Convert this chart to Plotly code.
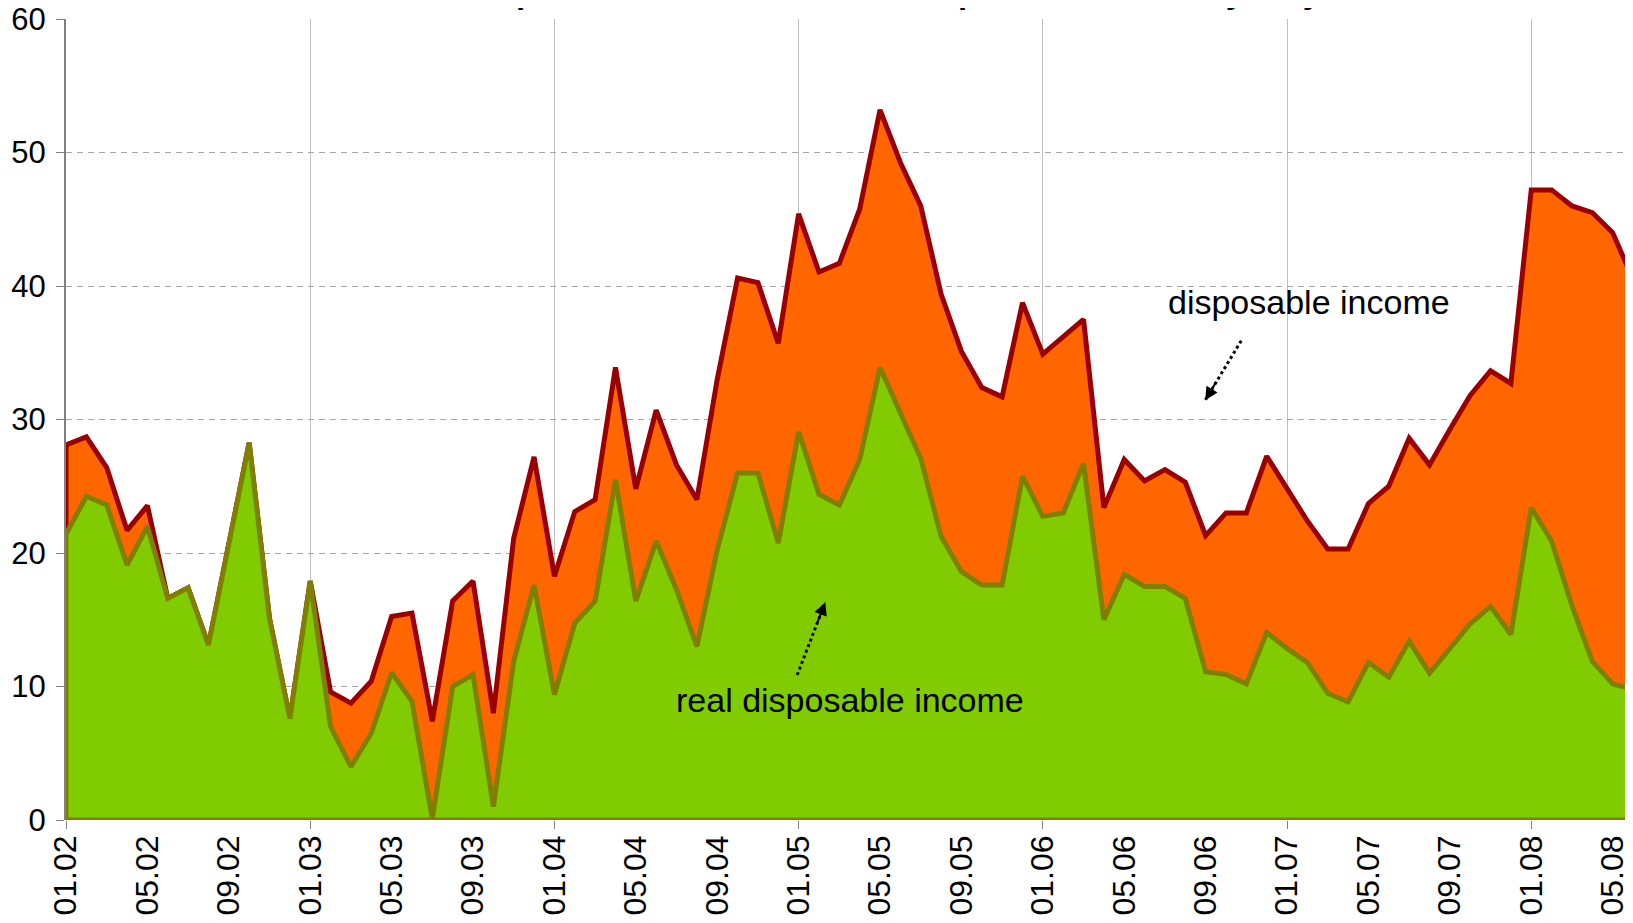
import plotly.graph_objects as go

months = [
    "01.02", "02.02", "03.02", "04.02", "05.02", "06.02", "07.02", "08.02", "09.02", "10.02", "11.02", "12.02",
    "01.03", "02.03", "03.03", "04.03", "05.03", "06.03", "07.03", "08.03", "09.03", "10.03", "11.03", "12.03",
    "01.04", "02.04", "03.04", "04.04", "05.04", "06.04", "07.04", "08.04", "09.04", "10.04", "11.04", "12.04",
    "01.05", "02.05", "03.05", "04.05", "05.05", "06.05", "07.05", "08.05", "09.05", "10.05", "11.05", "12.05",
    "01.06", "02.06", "03.06", "04.06", "05.06", "06.06", "07.06", "08.06", "09.06", "10.06", "11.06", "12.06",
    "01.07", "02.07", "03.07", "04.07", "05.07", "06.07", "07.07", "08.07", "09.07", "10.07", "11.07", "12.07",
    "01.08", "02.08", "03.08", "04.08", "05.08", "06.08",
]

disposable_income = [
    28.1, 28.7, 26.4, 21.7, 23.55, 16.6, 17.4, 13.1, 20.6, 28.25, 15.1, 7.6,
    17.9, 9.6, 8.75, 10.4, 15.25, 15.5, 7.4, 16.4, 17.9, 8.0, 21.1, 27.2,
    18.25, 23.1, 24.0, 33.9, 24.8, 30.7, 26.6, 24.0, 33.0, 40.6, 40.25, 35.7,
    45.4, 41.05, 41.7, 45.75, 53.2, 49.25, 46.0, 39.4, 35.1, 32.4, 31.7, 38.75,
    34.9, 36.2, 37.5, 23.4, 27.0, 25.4, 26.25, 25.3, 21.3, 23.0, 23.0, 27.25,
    24.8, 22.4, 20.3, 20.3, 23.7, 25.0, 28.6, 26.6, 29.25, 31.8, 33.65, 32.7,
    47.2, 47.2, 46.0, 45.5, 44.0, 40.5,
]

real_disposable_income = [
    21.4, 24.25, 23.6, 19.1, 22.0, 16.6, 17.4, 13.1, 20.6, 28.25, 15.1, 7.6,
    17.9, 7.0, 4.0, 6.5, 11.05, 8.9, 0.1, 10.0, 10.9, 1.0, 11.9, 17.6,
    9.4, 14.75, 16.4, 25.5, 16.4, 20.9, 17.25, 13.0, 20.25, 26.0, 26.0, 20.75,
    29.1, 24.4, 23.6, 27.0, 33.9, 30.5, 27.1, 21.25, 18.6, 17.6, 17.6, 25.75,
    22.75, 23.0, 26.7, 15.0, 18.4, 17.5, 17.5, 16.6, 11.1, 10.9, 10.2, 14.05,
    12.85, 11.8, 9.5, 8.85, 11.8, 10.7, 13.4, 11.0, 12.85, 14.7, 16.0, 13.9,
    23.4, 20.9, 16.05, 11.9, 10.2, 9.8,
]

label_step = 4
grid_step = 12
y_ticks = [0, 10, 20, 30, 40, 50, 60]

title_text = "Nominal disposable income and real disposable income, yearly, %"
label_nominal = "disposable income"
label_real = "real disposable income"

FONT = "Liberation Sans, Arial, sans-serif"

idx = list(range(len(months)))
last = idx[-1]


def closed(values):
    xs = [idx[0]] + idx + [last, idx[0]]
    ys = [0] + list(values) + [0, 0]
    return xs, ys


fig = go.Figure()

xn, yn = closed(disposable_income)
fig.add_trace(go.Scatter(
    x=xn, y=yn, mode="lines", fill="toself", fillcolor="#FF6600",
    line=dict(color="#990000", width=5), hoverinfo="skip", showlegend=False,
    xaxis="x", yaxis="y",
))

xr, yr = closed(real_disposable_income)
fig.add_trace(go.Scatter(
    x=xr, y=yr, mode="lines", fill="toself", fillcolor="#80CC00",
    line=dict(color="#808000", width=5), hoverinfo="skip", showlegend=False,
    xaxis="x2", yaxis="y",
))

# page body has an 8px default margin: size the figure so that it fits the window
fig.update_layout(
    width=1625, height=907,
    margin=dict(l=58, r=0, t=11, b=95),
    paper_bgcolor="white", plot_bgcolor="white",
    showlegend=False,
    font=dict(family=FONT, color="black"),
    xaxis=dict(
        range=[0, last], tickvals=idx[::grid_step], ticktext=["" for _ in idx[::grid_step]],
        ticks="outside", ticklen=8, tickcolor="#808080", tickwidth=1,
        showgrid=True, gridcolor="#BFBFBF", gridwidth=1,
        showline=False, zeroline=False, automargin=False,
    ),
    xaxis2=dict(
        overlaying="x", anchor="y", side="bottom", range=[0, last],
        tickvals=idx[::label_step], ticktext=months[::label_step],
        tickangle=-90, ticks="", showgrid=False, zeroline=False, showline=False,
        tickfont=dict(family=FONT, size=32, color="black"),
        ticklabelstandoff=8, ticklabeloverflow="allow", automargin=False,
    ),
    yaxis=dict(
        range=[0, 60], tickvals=y_ticks,
        ticks="outside", ticklen=8, tickcolor="#808080",
        showgrid=True, gridcolor="#A6A6A6", griddash="6px,5px", gridwidth=1,
        showline=True, linecolor="#808080", linewidth=2, zeroline=False,
        tickfont=dict(family=FONT, size=31, color="black"),
        ticklabelstandoff=4, ticklabeloverflow="allow", automargin=False,
    ),
)

# text labels
fig.add_annotation(x=61.1, y=38.8, xref="x", yref="y", text=label_nominal, showarrow=False,
                   font=dict(family=FONT, size=34, color="black"))
fig.add_annotation(x=38.5, y=9.0, xref="x", yref="y", text=label_real, showarrow=False,
                   font=dict(family=FONT, size=34, color="black"))

# dotted arrows
arrows = [((57.75, 35.9), (55.98, 31.45)), ((35.93, 10.86), (37.31, 16.32))]
for (tx, ty), (hx, hy) in arrows:
    fig.add_shape(type="line", xref="x", yref="y", x0=tx, y0=ty, x1=hx, y1=hy,
                  line=dict(color="black", width=3, dash="dot"))
    fig.add_annotation(x=hx, y=hy, ax=hx + 0.3 * (tx - hx), ay=hy + 0.3 * (ty - hy),
                       xref="x", yref="y", axref="x", ayref="y", text="",
                       showarrow=True, arrowhead=2, arrowsize=1.3, arrowwidth=2, arrowcolor="black")

# title, clipped by the top edge of the window as in the reference
fig.add_annotation(x=0.8309, y=1, xref="paper", yref="paper", xanchor="right", yanchor="bottom",
                   yshift=6.5, text="<b>" + title_text + "</b>", showarrow=False,
                   font=dict(family=FONT, size=33, color="black"))

fig.write_html("out.html")
